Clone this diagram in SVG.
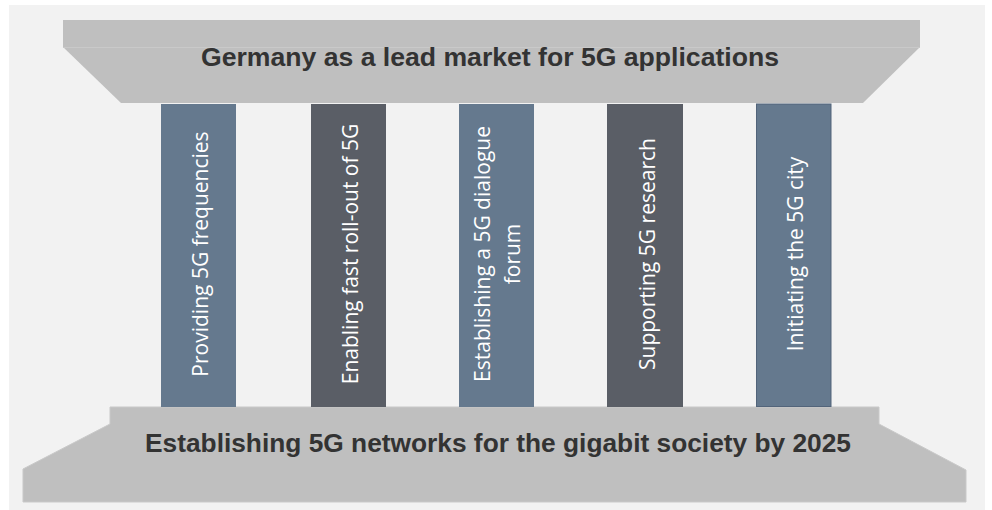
<svg xmlns="http://www.w3.org/2000/svg" width="992" height="510" viewBox="0 0 992 510">
  <style>
    .slab { fill: #bfbfbf; }
    .head { font-family: "Liberation Sans", Arial, sans-serif; font-weight: bold; font-size: 26px; fill: #333333; text-anchor: middle; }
    .blue { fill: #65798e; }
    .dark { fill: #5a5e66; }
    .lbl { font-family: "Open Sans", "Liberation Sans", sans-serif; font-size: 21px; fill: #ffffff; text-anchor: middle; }
  </style>
  <rect x="0" y="0" width="992" height="510" fill="#ffffff"/>
  <rect x="9" y="5" width="976" height="505" fill="#f2f2f2"/>

  <g id="roof">
    <path class="slab" d="M63 20 H920 V47 L863 103 H121 L63 47 Z"/>
    <line x1="63" y1="47.5" x2="920" y2="47.5" stroke="#c9c9c9" stroke-width="1"/>
    <text class="head" x="490" y="66" textLength="578" lengthAdjust="spacingAndGlyphs">Germany as a lead market for 5G applications</text>
  </g>

  <g id="base">
    <path class="slab" d="M110 407 H879 V424 L966 470 V502 H23 V469 L110 424 Z" stroke="#c9c9c9" stroke-width="1"/>
    <text class="head" x="498" y="452" textLength="706" lengthAdjust="spacingAndGlyphs">Establishing 5G networks for the gigabit society by 2025</text>
  </g>

  <g id="pillar1">
    <rect class="blue" x="161" y="104" width="75" height="303"/>
    <text class="lbl" transform="translate(208,254) rotate(-90)">Providing 5G frequencies</text>
  </g>
  <g id="pillar2">
    <rect class="dark" x="311" y="104" width="75" height="303"/>
    <text class="lbl" transform="translate(358,254) rotate(-90)">Enabling fast roll-out of 5G</text>
  </g>
  <g id="pillar3">
    <rect class="blue" x="459" y="104" width="75" height="303"/>
    <text class="lbl" transform="translate(490,254) rotate(-90)">Establishing a 5G dialogue</text>
    <text class="lbl" transform="translate(520,254) rotate(-90)">forum</text>
  </g>
  <g id="pillar4">
    <rect class="dark" x="607" y="104" width="76" height="303"/>
    <text class="lbl" transform="translate(655,254) rotate(-90)">Supporting 5G research</text>
  </g>
  <g id="pillar5">
    <rect class="blue" x="756.5" y="104" width="74.5" height="302.5" stroke="#52647a" stroke-width="1"/>
    <text class="lbl" transform="translate(803,254) rotate(-90)">Initiating the 5G city</text>
  </g>

  <g id="connectors"/>
</svg>
